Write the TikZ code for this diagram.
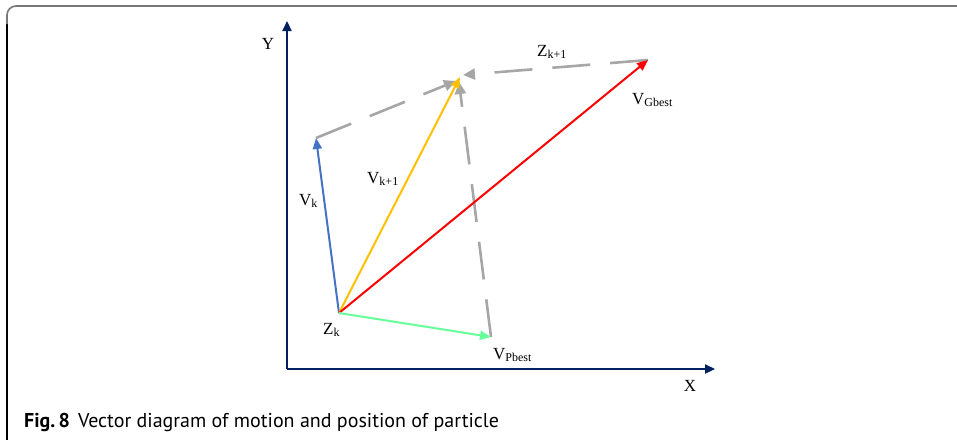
\documentclass[tikz,border=0pt]{standalone}
\usepackage{fontspec}
\setmainfont{Liberation Serif}
\newfontfamily\capfont{PT Sans}
\usetikzlibrary{arrows.meta}
\definecolor{navy}{RGB}{0,32,96}
\definecolor{vkblue}{RGB}{68,114,196}
\definecolor{vyellow}{RGB}{255,192,0}
\definecolor{vgreen}{RGB}{102,255,153}
\definecolor{dgray}{RGB}{166,166,166}
\definecolor{framegray}{RGB}{120,120,120}
\tikzset{
  axis/.style={navy, line width=2.2pt, -{Triangle[length=10pt,width=9pt]}},
  vec/.style={line width=2pt, -{Triangle[length=11pt,width=9pt]}},
  gdash/.style={dgray, line width=2.6pt, dash pattern=on 38pt off 20pt, -{Triangle[length=12pt,width=11pt]}},
  lab/.style={font=\fontsize{17}{17}\selectfont, inner sep=0pt},
}
\newcommand{\sbs}[1]{\textsubscript{\fontsize{12}{12}\selectfont #1}}
\begin{document}
\begin{tikzpicture}[x=1pt,y=-1pt]
\useasboundingbox (0,0) rectangle (957,439);
% frame
\draw[black, line width=1.2pt] (7,445) -- (7,18);
\draw[framegray, line width=1.6pt, rounded corners=9pt] (7,24) -- (7,6) -- (962,6);
% points
\coordinate (O) at (287,369);
\coordinate (Ytip) at (287,21);
\coordinate (Xtip) at (715,369);
\coordinate (Zk) at (339,313);
\coordinate (Vk) at (316,138);
\coordinate (Vk1) at (460,77);
\coordinate (VG) at (648,60);
\coordinate (VP) at (491,337);
% axes
\draw[axis] (O) -- (Ytip);
\draw[axis] (O) -- (Xtip);
% dashed
\draw[gdash] (Vk) -- (456,81);
\draw[gdash] (VG) -- (463,75);
\draw[gdash] (VP) -- (459,82);
% vectors
\draw[vec, vkblue] (Zk) -- (Vk);
\draw[vec, vyellow] (Zk) -- (Vk1);
\draw[vec, red] (Zk) -- (VG);
\draw[vec, vgreen] (Zk) -- (VP);
% labels
\node[lab] (ly) at (268,44) {Y};
\node[lab] (lx) at (690,386) {X};
\node[lab, anchor=base west] (lvk) at (299,205) {V\sbs{k}};
\node[lab, anchor=base west] (lvk1) at (367,183) {V\sbs{k+1}};
\node[lab, anchor=base west] (lzk1) at (537,56) {Z\sbs{k+1}};
\node[lab, anchor=base west] (lvg) at (632,104) {V\sbs{Gbest}};
\node[lab, anchor=base west] (lzk) at (323,334) {Z\sbs{k}};
\node[lab, anchor=base west] (lvp) at (493,359) {V\sbs{Pbest}};
% caption
\node[anchor=base west, inner sep=0pt, font=\capfont\fontsize{20}{22}\selectfont] (cap) at (24,427) {\textbf{Fig.\,8}\hspace{8pt}Vector diagram of motion and position of particle};
\end{tikzpicture}
\end{document}
